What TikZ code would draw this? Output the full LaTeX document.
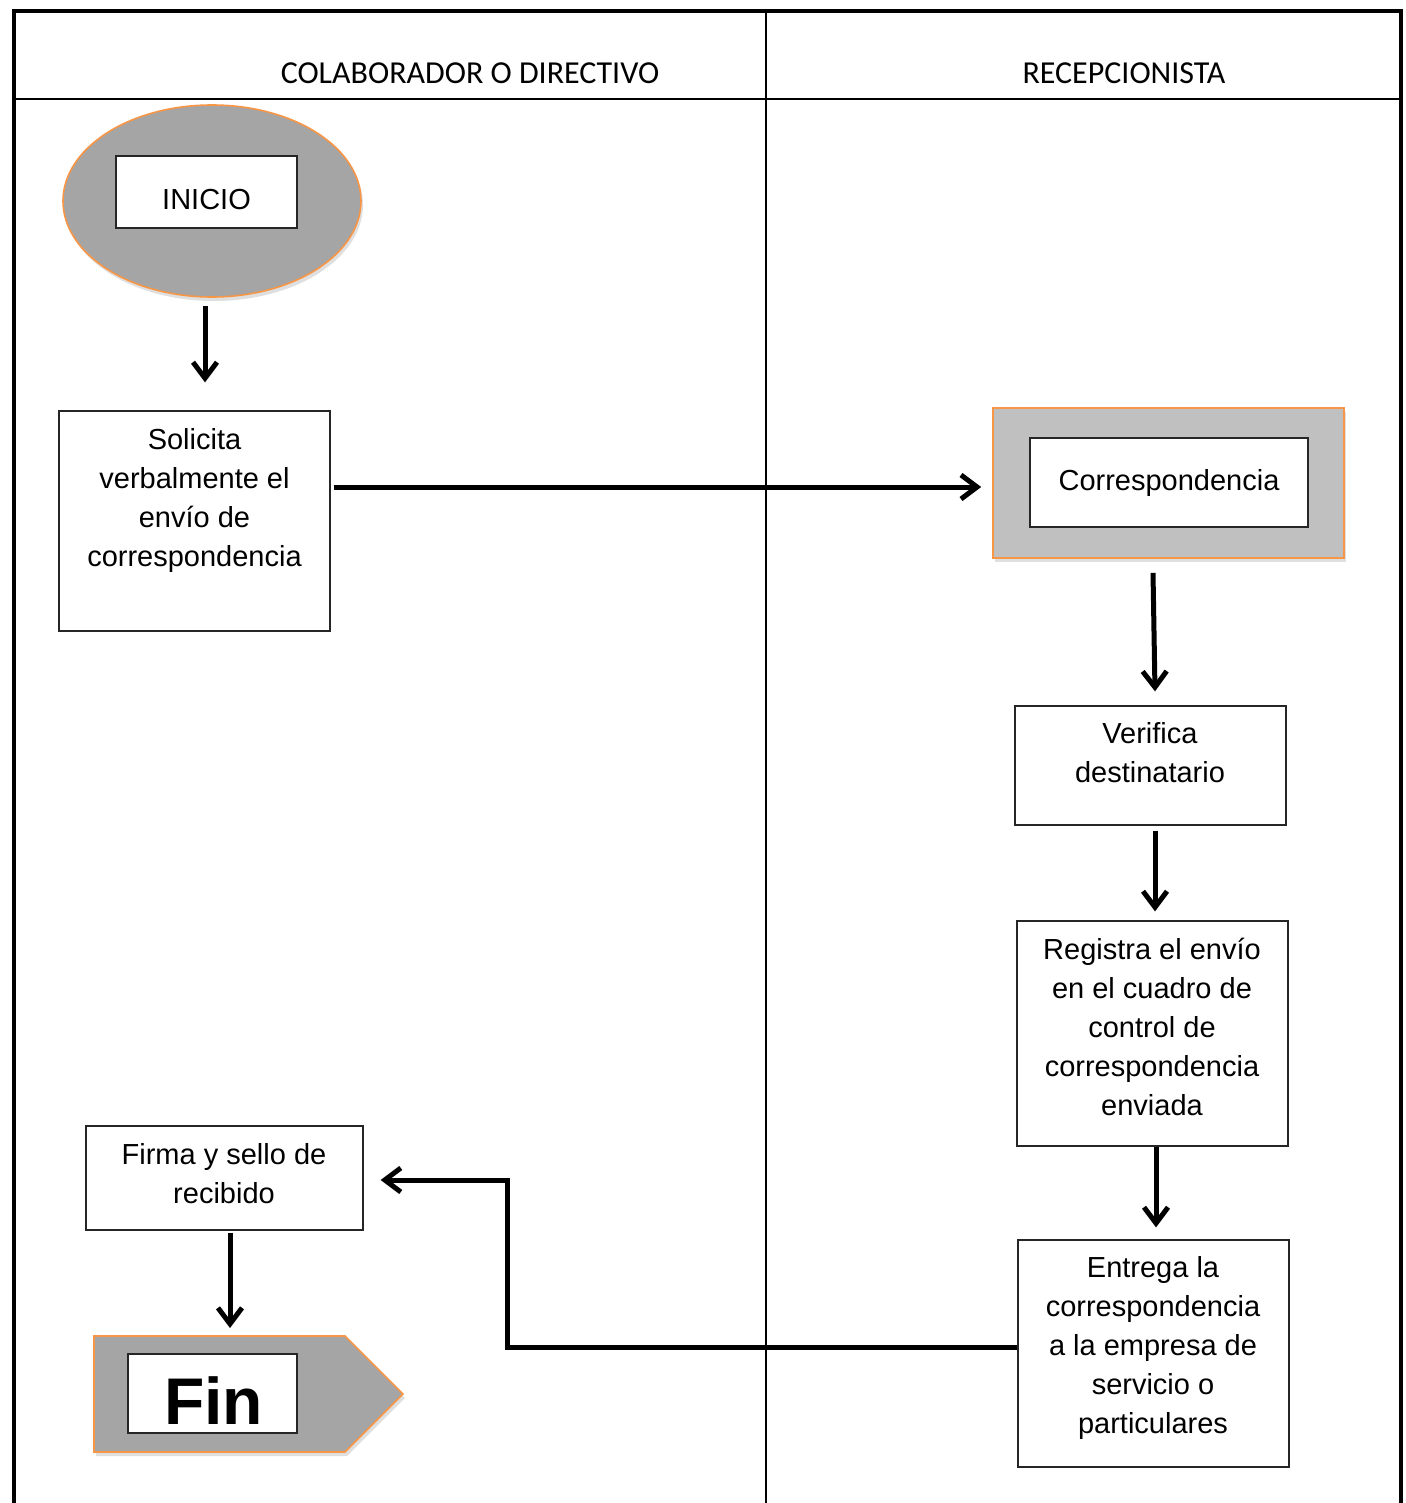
\documentclass[tikz,border=0pt]{standalone}
\usepackage{fontspec}
\setmainfont{Liberation Sans}
\newfontfamily\headfont{Carlito}
\usetikzlibrary{arrows.meta,shadows,shapes.geometric,calc}

\definecolor{shapegray}{HTML}{A5A5A5}
\definecolor{panelgray}{HTML}{C0C0C0}
\definecolor{edgeorange}{HTML}{F79646}

\begin{document}
\begin{tikzpicture}[x=0.5pt,y=-0.5pt,
  frameline/.style={line width=2.2pt},
  laneline/.style={line width=0.8pt},
  lanetitle/.style={font=\headfont\fontsize{16}{19}\selectfont, inner sep=0pt},
  stepbox/.style={draw=black!85, line width=0.6pt, fill=white, inner sep=0pt},
  steptext/.style={align=center, font=\fontsize{14.5}{19.5}\selectfont, inner sep=0pt},
  flow/.style={line width=2.5pt, -{Straight Barb[length=8pt,width=12pt]}},
  softshadow/.style={drop shadow={opacity=0.25, shadow xshift=1pt, shadow yshift=-2pt}},
  accent/.style={draw=edgeorange, line width=0.8pt},
]
\useasboundingbox (0,0) rectangle (1406,1503);

% swimlane frame
\draw[frameline] (14,1503) -- (14,11) -- (1401,11) -- (1401,1503);
\draw[laneline] (14,99) -- (1401,99);
\draw[laneline] (766,11) -- (766,1503);
\node[lanetitle] (laneA) at (470,73) {COLABORADOR O DIRECTIVO};
\node[lanetitle] (laneB) at (1124,73) {RECEPCIONISTA};

% start
\node[ellipse, accent, fill=shapegray, minimum width=149pt, minimum height=96pt, softshadow] (start) at (212,201) {};
\node[stepbox, minimum width=90.5pt, minimum height=36pt] (startbox) at (206.5,192) {};
\node[steptext] (startT) at (206.5,200) {INICIO};

% requester steps
\node[stepbox, minimum width=135.5pt, minimum height=110pt] (ask) at (194.5,521) {};
\node[steptext] (askT) at (194.5,500) {Solicita\\verbalmente el\\envío de\\correspondencia};

\node[stepbox, minimum width=138.5pt, minimum height=52pt] (sign) at (224.5,1178) {};
\node[steptext] (signT) at (224,1173.5) {Firma y sello de\\recibido};

% end marker
\draw[accent, fill=shapegray, softshadow] (94,1336) -- (345,1336) -- (403,1394) -- (345,1452) -- (94,1452) -- cycle;
\coordinate (endtop) at (230,1336);
\node[stepbox, minimum width=84.5pt, minimum height=39.5pt] (endbox) at (212.5,1393.5) {};
\node[font=\bfseries\fontsize{33}{38}\selectfont, inner sep=0pt] (endT) at (213.5,1401) {Fin};

% receptionist steps
\node[accent, fill=panelgray, minimum width=175.5pt, minimum height=75pt, softshadow] (mail) at (1168.5,483) {};
\node[stepbox, steptext, minimum width=139pt, minimum height=44.5pt] (mailbox) at (1169,482.5) {Correspondencia};

\node[stepbox, minimum width=135.5pt, minimum height=59.5pt] (check) at (1150.5,765.5) {};
\node[steptext] (checkT) at (1150,753) {Verifica\\destinatario};

\node[stepbox, minimum width=135.5pt, minimum height=112.5pt] (log) at (1152.5,1033.5) {};
\node[steptext] (logT) at (1152,1026.5) {Registra el envío\\en el cuadro de\\control de\\correspondencia\\enviada};

\node[stepbox, minimum width=135.5pt, minimum height=113.5pt] (hand) at (1153.5,1353.5) {};
\node[steptext] (handT) at (1153,1348) {Entrega la\\correspondencia\\a la empresa de\\servicio o\\particulares};

% connectors
\coordinate (bend) at (507,1180);
\draw[flow] ($(start.south)+(-7,8)$) -- ($(ask.north)+(10.5,-28)$);
\draw[flow] ($(ask.east)+(3,-34)$) -- ($(mail.west)+(-11,4)$);
\draw[flow] ($(mail.south)+(-15.5,14)$) -- ($(check.north)+(4.5,-14)$);
\draw[flow] ($(check.south)+(4.5,5)$) -- ($(log.north)+(2.5,-9)$);
\draw[flow] ($(log.south)+(3.5,0)$) -- ($(hand.north)+(2.5,-12)$);
\draw[flow] ($(hand.west)+(0,-6.5)$) -| (bend) -- ($(sign.east)+(17,2)$);
\draw[flow] ($(sign.south)+(5.5,2)$) -- ($(endtop)+(0,-8)$);
\end{tikzpicture}
\end{document}
